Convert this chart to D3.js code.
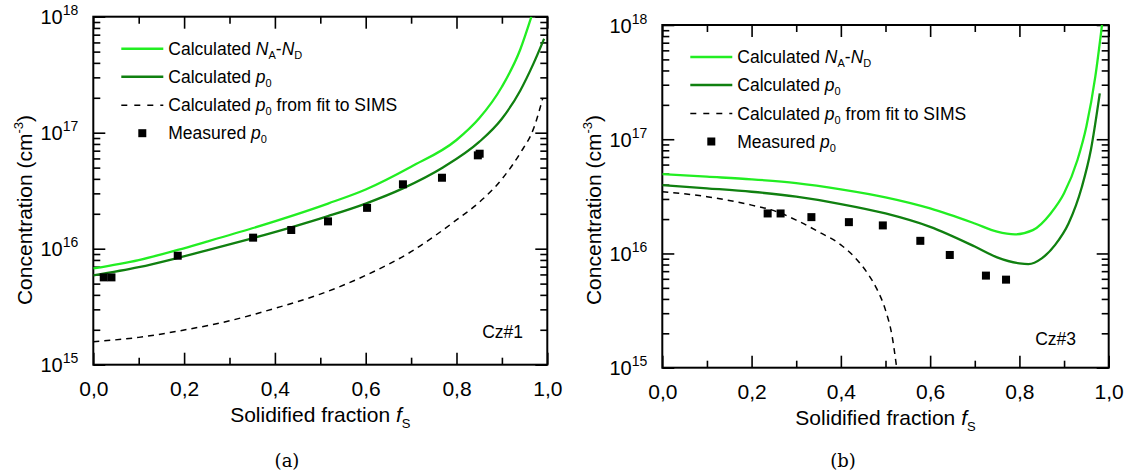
<!DOCTYPE html>
<html>
<head>
<meta charset="utf-8">
<script src="https://cdn.jsdelivr.net/npm/d3@7"></script>
<style>
  body { margin: 0; background: #fff; }
  text { font-family: "Liberation Sans", Arial, sans-serif; fill: #000; }
</style>
</head>
<body>
<svg id="fig" width="1127" height="475"></svg>
<script>
// axis ticks
const xMajor = [0, 0.2, 0.4, 0.6, 0.8, 1.0]
const xMinor = [0.1, 0.3, 0.5, 0.7, 0.9]
const xTickLabels = ["0,0", "0,2", "0,4", "0,6", "0,8", "1,0"]
const yDecades = [15, 16, 17, 18]

// panel (a), Cz#1 : [solidified fraction, concentration cm^-3]
const aNAND = [[0, 6.76e15], [0.1, 7.98e15], [0.186, 9.75e15], [0.25, 1.15e16], [0.35, 1.50e16],
  [0.517, 2.45e16], [0.6, 3.24e16], [0.7, 5.09e16], [0.8, 8.65e16], [0.85, 1.33e17],
  [0.9, 2.49e17], [0.94, 5.16e17], [0.965, 1.0e18]]
const aP0 = [[0, 5.89e15], [0.1, 6.92e15], [0.186, 8.32e15], [0.25, 9.66e15], [0.35, 1.23e16],
  [0.436, 1.53e16], [0.517, 1.91e16], [0.6, 2.45e16], [0.682, 3.31e16], [0.77, 5.01e16],
  [0.85, 8.32e16], [0.9, 1.32e17], [0.94, 2.29e17], [0.97, 3.98e17], [0.993, 6.46e17]]
const aSims = [[0, 1.58e15], [0.1, 1.72e15], [0.2, 1.99e15], [0.3, 2.39e15], [0.4, 3.06e15],
  [0.5, 4.06e15], [0.6, 5.89e15], [0.7, 9.42e15], [0.8, 1.77e16], [0.85, 2.51e16],
  [0.9, 3.98e16], [0.94, 6.64e16], [0.97, 1.09e17], [0.99, 1.98e17]]
const aMeasured = [[0.023, 5.66e15], [0.040, 5.66e15], [0.186, 8.7e15], [0.352, 1.245e16],
  [0.436, 1.45e16], [0.517, 1.72e16], [0.603, 2.25e16], [0.682, 3.59e16], [0.768, 4.09e16],
  [0.847, 6.38e16], [0.851, 6.59e16]]

// panel (b), Cz#3
const bNAND = [[0, 4.95e16], [0.1, 4.70e16], [0.2, 4.46e16], [0.3, 4.13e16], [0.4, 3.64e16],
  [0.5, 3.10e16], [0.6, 2.48e16], [0.7, 1.83e16], [0.75, 1.55e16], [0.79, 1.47e16],
  [0.83, 1.60e16], [0.87, 2.24e16], [0.9, 3.36e16], [0.93, 6.58e16], [0.95, 1.29e17],
  [0.97, 3.53e17], [0.985, 1.0e18]]
const bP0 = [[0, 3.97e16], [0.1, 3.72e16], [0.2, 3.47e16], [0.3, 3.14e16], [0.4, 2.71e16],
  [0.5, 2.24e16], [0.6, 1.71e16], [0.7, 1.15e16], [0.75, 9.25e15], [0.8, 8.19e15],
  [0.82, 8.07e15], [0.85, 9.06e15], [0.88, 1.19e16], [0.91, 1.83e16], [0.94, 3.84e16],
  [0.96, 8.04e16], [0.98, 2.52e17]]
const bSims = [[0, 3.47e16], [0.1, 3.14e16], [0.2, 2.65e16], [0.25, 2.37e16], [0.3, 1.96e16],
  [0.35, 1.55e16], [0.4, 1.19e16], [0.43, 9.35e15], [0.46, 6.68e15], [0.48, 4.94e15],
  [0.5, 3.19e15], [0.515, 1.87e15], [0.525, 1.0e15]]
const bMeasured = [[0.236, 2.24e16], [0.265, 2.24e16], [0.334, 2.08e16], [0.418, 1.88e16],
  [0.494, 1.76e16], [0.578, 1.29e16], [0.644, 9.7e15], [0.725, 6.4e15], [0.770, 5.9e15]]

const lightGreen = "#22ee22"
const darkGreen = "#108010"

const svg = d3.select("#fig")

function drawPanel(p) {
  const g = svg.append("g")
  const x = d3.scaleLinear().domain([0, 1]).range([p.left, p.right])
  const y = d3.scaleLog().domain([1e15, 1e18]).range([p.bottom, p.top])

  const yMajor = yDecades.map(d => Math.pow(10, d))
  const yMinor = []
  for (let d = 15; d < 18; d++) for (let m = 2; m <= 9; m++) yMinor.push(m * Math.pow(10, d))

  // clip
  g.append("clipPath").attr("id", "clip" + p.id)
    .append("rect").attr("x", p.left).attr("y", p.top)
    .attr("width", p.right - p.left).attr("height", p.bottom - p.top)

  // ticks on all four sides, pointing inward
  function ticks(axisFn, tr, values, size) {
    const a = g.append("g").attr("transform", tr)
      .call(axisFn.tickValues(values).tickSize(-size).tickSizeOuter(0).tickFormat(""))
    a.select(".domain").remove()
    a.selectAll("line").attr("stroke", "#000").attr("stroke-width", 1.6)
    return a
  }
  const bx = ticks(d3.axisBottom(x), `translate(0,${p.bottom})`, xMajor, 12)
  ticks(d3.axisBottom(x), `translate(0,${p.bottom})`, xMinor, 7)
  ticks(d3.axisTop(x), `translate(0,${p.top})`, xMajor, 12)
  ticks(d3.axisTop(x), `translate(0,${p.top})`, xMinor, 7)
  const ly = ticks(d3.axisLeft(y), `translate(${p.left},0)`, yMajor, 12)
  ticks(d3.axisLeft(y), `translate(${p.left},0)`, yMinor, 7)
  ticks(d3.axisRight(y), `translate(${p.right},0)`, yMajor, 12)
  ticks(d3.axisRight(y), `translate(${p.right},0)`, yMinor, 7)

  // x tick labels
  bx.selectAll(".tick").append("text")
    .attr("y", 31).attr("text-anchor", "middle")
    .style("font-size", "21px")
    .text((d, i) => xTickLabels[i])

  // y tick labels 10^n
  ly.selectAll(".tick").each(function (d, i) {
    const t = d3.select(this).append("text")
      .attr("x", -15).attr("y", 7).attr("text-anchor", "end")
      .style("font-size", "20px")
    t.append("tspan").text("10")
    t.append("tspan").attr("dy", -9).style("font-size", "14px").text(yDecades[i])
  })

  // frame
  g.append("rect")
    .attr("x", p.left).attr("y", p.top)
    .attr("width", p.right - p.left).attr("height", p.bottom - p.top)
    .attr("fill", "none").attr("stroke", "#000").attr("stroke-width", 2)

  // curves
  const line = d3.line().x(d => x(d[0])).y(d => y(d[1])).curve(d3.curveMonotoneX)
  const plot = g.append("g").attr("clip-path", `url(#clip${p.id})`)
  plot.append("path").datum(p.sims).attr("d", line)
    .attr("fill", "none").attr("stroke", "#000").attr("stroke-width", 1.5)
    .attr("stroke-dasharray", "6,5")
  plot.append("path").datum(p.nand).attr("d", line)
    .attr("fill", "none").attr("stroke", lightGreen).attr("stroke-width", 2.3)
  plot.append("path").datum(p.p0).attr("d", line)
    .attr("fill", "none").attr("stroke", darkGreen).attr("stroke-width", 2.3)
  plot.selectAll("rect.pt").data(p.measured).enter().append("rect")
    .attr("class", "pt")
    .attr("x", d => x(d[0]) - 4).attr("y", d => y(d[1]) - 4)
    .attr("width", 8).attr("height", 8).attr("fill", "#000")

  // legend
  const lx0 = p.left + 28, lx1 = p.left + 70, tx = p.left + 75
  const rows = [32, 60, 88.5, 116.5].map(r => p.top + r)
  g.append("line").attr("x1", lx0).attr("x2", lx1).attr("y1", rows[0]).attr("y2", rows[0])
    .attr("stroke", lightGreen).attr("stroke-width", 2.5)
  g.append("line").attr("x1", lx0).attr("x2", lx1).attr("y1", rows[1]).attr("y2", rows[1])
    .attr("stroke", darkGreen).attr("stroke-width", 2.5)
  g.append("line").attr("x1", lx0).attr("x2", lx1).attr("y1", rows[2]).attr("y2", rows[2])
    .attr("stroke", "#000").attr("stroke-width", 1.5).attr("stroke-dasharray", "6,7")
  g.append("rect").attr("x", (lx0 + lx1) / 2 - 4).attr("y", rows[3] - 4)
    .attr("width", 8).attr("height", 8).attr("fill", "#000")

  function legendText(row, parts) {
    const t = g.append("text").attr("x", tx).attr("y", row + 6).style("font-size", "17.5px")
    parts.forEach(pt => {
      const s = t.append("tspan").text(pt.t)
      if (pt.i) s.style("font-style", "italic")
      if (pt.sub) s.style("font-size", "11px").attr("dy", 4)
      if (pt.up) s.attr("dy", -4)
    })
  }
  legendText(rows[0], [{ t: "Calculated " }, { t: "N", i: 1 }, { t: "A", sub: 1 },
    { t: "-", up: 1 }, { t: "N", i: 1 }, { t: "D", sub: 1 }])
  legendText(rows[1], [{ t: "Calculated " }, { t: "p", i: 1 }, { t: "0", sub: 1 }])
  legendText(rows[2], [{ t: "Calculated " }, { t: "p", i: 1 }, { t: "0", sub: 1 },
    { t: " from fit to SIMS", up: 1 }])
  legendText(rows[3], [{ t: "Measured " }, { t: "p", i: 1 }, { t: "0", sub: 1 }])

  // sample label
  g.append("text").attr("x", p.labelX).attr("y", p.labelY)
    .attr("text-anchor", "end").style("font-size", "17.5px").text(p.label)

  // axis titles
  const xt = g.append("text").attr("x", (p.left + p.right) / 2).attr("y", p.bottom + 57)
    .attr("text-anchor", "middle").style("font-size", "21px")
  xt.append("tspan").text("Solidified fraction ")
  xt.append("tspan").style("font-style", "italic").text("f")
  xt.append("tspan").attr("dy", 6).style("font-size", "13px").text("S")

  const yt = g.append("text")
    .attr("transform", `translate(${p.left - 61},210) rotate(-90)`)
    .attr("text-anchor", "middle").style("font-size", "21px")
  yt.append("tspan").text("Concentration (cm")
  yt.append("tspan").attr("dy", -9).style("font-size", "13px").text("-3")
  yt.append("tspan").attr("dy", 9).text(")")

  // caption
  g.append("text").attr("x", p.captionX).attr("y", 467)
    .attr("text-anchor", "middle")
    .style("font-family", "'DejaVu Serif', 'Liberation Serif', serif")
    .style("font-size", "18px").text(p.caption)
}

drawPanel({ id: "a", left: 93.3, right: 547.3, top: 16.7, bottom: 364.7,
  nand: aNAND, p0: aP0, sims: aSims, measured: aMeasured,
  label: "Cz#1", labelX: 523, labelY: 338, caption: "(a)", captionX: 287 })
drawPanel({ id: "b", left: 662.3, right: 1108.7, top: 25, bottom: 367.7,
  nand: bNAND, p0: bP0, sims: bSims, measured: bMeasured,
  label: "Cz#3", labelX: 1076, labelY: 345, caption: "(b)", captionX: 843 })
</script>
</body>
</html>
